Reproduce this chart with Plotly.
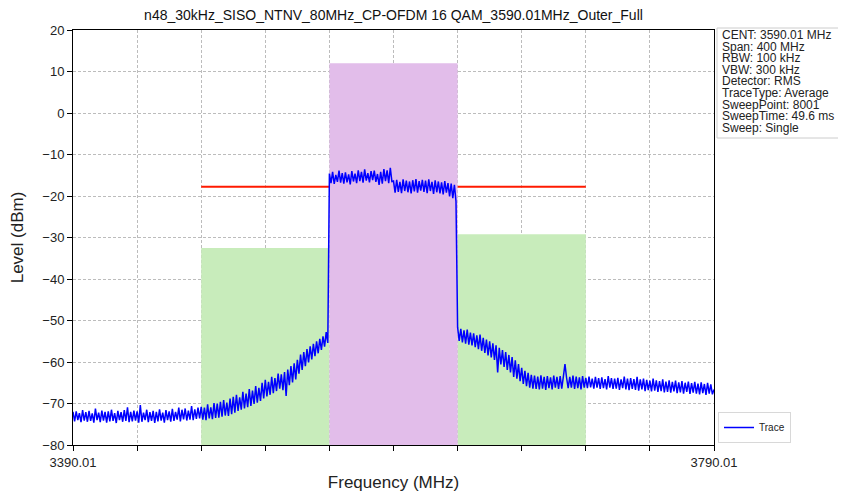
import numpy as np
import plotly.graph_objects as go

# ---------------- data ----------------
f_start = 3390.01
f_stop = 3790.01
x_tick_vals = [3390.01 + 40 * k for k in range(11)]
x_tick_text = ["3390.01"] + [""] * 9 + ["3790.01"]
y_tick_vals = [20, 10, 0, -10, -20, -30, -40, -50, -60, -70, -80]

trace_level = [
    -72.0, -74.3, -71.9, -74.0, -72.3, -74.5, -71.6, -74.1, -72.1, -74.4,
    -71.8, -74.2, -72.4, -74.6, -71.2, -74.0, -72.2, -74.5, -71.7, -74.1,
    -72.0, -74.6, -71.9, -74.3, -71.5, -74.2, -72.3, -74.7, -71.8, -74.0,
    -72.1, -74.4, -71.6, -74.2, -70.9, -74.5, -72.0, -74.3, -71.7, -74.1,
    -71.9, -74.6, -70.4, -74.4, -72.2, -74.0, -71.5, -74.5, -72.1, -74.2,
    -71.8, -74.7, -72.0, -74.3, -71.4, -74.1, -72.2, -74.6, -71.6, -74.0,
    -71.9, -74.4, -71.3, -74.2, -72.0, -73.9, -71.0, -74.3, -71.5, -73.8,
    -71.2, -74.1, -71.7, -73.9, -70.6, -74.0, -71.4, -73.7, -71.0, -73.6,
    -70.8, -73.9, -71.0, -74.0, -70.2, -73.6, -70.9, -73.8, -69.9, -73.5,
    -70.0, -73.4, -69.6, -73.2, -69.2, -72.9, -69.8, -73.0, -68.8, -72.6,
    -68.4, -72.2, -67.9, -71.8, -68.5, -71.5, -67.2, -71.2, -67.6, -70.9,
    -66.5, -70.6, -66.9, -70.1, -65.8, -69.8, -66.2, -69.4, -65.0, -68.8,
    -64.3, -68.3, -64.8, -67.9, -63.6, -67.5, -63.9, -67.0, -62.8, -66.4,
    -63.0, -66.8, -62.4, -68.2, -61.8, -65.6, -61.0, -64.9, -60.3, -64.2,
    -59.5, -62.8, -58.2, -61.9, -57.6, -61.0, -56.9, -60.1, -56.2, -59.4,
    -55.6, -58.6, -55.0, -57.9, -54.4, -57.1, -53.8, -56.3, -52.8, -55.4,
    -14.6, -16.9, -14.2, -17.1, -14.9, -16.6, -13.9, -16.8, -14.5, -17.0,
    -14.3, -16.7, -14.8, -17.2, -14.0, -16.5, -14.6, -16.9, -13.8, -16.4,
    -14.2, -16.8, -13.6, -16.3, -14.5, -16.7, -14.0, -16.2, -13.9, -16.6,
    -14.7, -17.3, -14.2, -17.0, -13.5, -16.4, -13.8, -16.9, -13.2, -16.5,
    -16.4, -19.2, -16.1, -19.0, -16.6, -19.3, -16.0, -18.8, -16.3, -19.1,
    -16.5, -19.4, -16.2, -18.9, -15.9, -19.2, -16.4, -18.7, -16.1, -19.0,
    -16.3, -19.3, -16.0, -18.8, -16.6, -19.5, -16.2, -19.1, -16.5, -19.4,
    -16.7, -19.6, -16.4, -19.2, -16.9, -20.1, -17.0, -20.5, -17.3, -21.3,
    -51.6, -54.9, -52.0, -55.3, -52.4, -55.6, -52.2, -55.8, -52.9, -56.0,
    -53.1, -56.4, -53.6, -56.9, -53.4, -57.3, -54.2, -57.8, -54.6, -58.4,
    -55.0, -58.9, -55.5, -59.5, -56.0, -62.5, -56.6, -60.6, -57.1, -61.2,
    -57.6, -61.9, -58.3, -62.5, -58.8, -63.6, -59.6, -64.0, -60.5, -64.6,
    -61.4, -65.3, -62.1, -65.8, -62.6, -66.2, -63.1, -66.4, -63.3, -66.5,
    -63.5, -66.6, -63.2, -66.4, -63.6, -66.7, -63.4, -66.3, -63.7, -66.6,
    -63.3, -66.2, -63.6, -66.5, -63.4, -66.4, -63.5, -60.5, -63.8, -66.3,
    -63.6, -66.2, -63.3, -66.5, -63.5, -66.3, -63.7, -66.6, -63.4, -66.2,
    -63.8, -66.3, -63.5, -66.1, -64.0, -66.4, -63.6, -66.2, -63.9, -66.5,
    -63.7, -66.3, -64.1, -66.6, -63.4, -66.2, -63.9, -66.5, -64.0, -66.4,
    -63.8, -66.7, -64.2, -66.3, -63.5, -66.6, -64.0, -66.8, -63.9, -66.5,
    -64.1, -66.7, -63.6, -66.9, -64.2, -66.6, -64.0, -67.0, -64.3, -66.8,
    -64.5, -67.1, -64.0, -66.9, -64.4, -67.2, -64.6, -67.0, -64.2, -67.3,
    -64.7, -67.2, -64.4, -67.4, -64.8, -67.1, -64.5, -67.5, -64.9, -67.3,
    -64.6, -67.6, -65.0, -67.2, -64.7, -67.7, -65.1, -67.4, -64.8, -67.6,
    -65.2, -67.8, -64.9, -67.5, -65.3, -67.9, -65.0, -67.6, -65.4, -67.8, -66.6,
]
trace_freq = np.linspace(f_start, f_stop, len(trace_level))

# mask regions (MHz edges and limit levels in dBm)
left_region = [3470.01, 3550.01]
left_level = -32.5
channel_region = [3550.01, 3630.01]
channel_level = 12.0
right_region = [3630.01, 3710.01]
right_level = -29.2
limit_span = [3470.01, 3710.01]
limit_level = -17.8

info_lines = [
    "CENT: 3590.01 MHz", "Span: 400 MHz", "RBW: 100 kHz", "VBW: 300 kHz",
    "Detector: RMS", "TraceType: Average", "SweepPoint: 8001",
    "SweepTime: 49.6 ms", "Sweep: Single",
]

# ---------------- figure ----------------
FONT = "Arial, Liberation Sans, sans-serif"
fig = go.Figure()


def rect(xr, top, color):
    return go.Scatter(
        x=[xr[0], xr[0], xr[1], xr[1], xr[0]],
        y=[-80, top, top, -80, -80],
        fill="toself", fillcolor=color, mode="none",
        hoverinfo="skip", showlegend=False,
    )


fig.add_trace(rect(left_region, left_level, "#c8ecbb"))
fig.add_trace(rect(right_region, right_level, "#c8ecbb"))
fig.add_trace(go.Scatter(
    x=limit_span, y=[limit_level, limit_level], mode="lines",
    line=dict(color="#ff1a00", width=2), showlegend=False,
))
fig.add_trace(rect(channel_region, channel_level, "#e2bdea"))
fig.add_trace(go.Scatter(
    x=trace_freq, y=trace_level, mode="lines", name="Trace",
    line=dict(color="#0000ff", width=1.5),
))

# page has an 8px body margin: figure coordinates = page coordinates - 8
W, H = 838, 489
L, R, T, B = 65, 706, 22, 437
PW, PH = R - L, B - T


def px(xp):
    return (xp - L) / PW


def py(yp):
    return (B - yp) / PH


fig.update_layout(
    width=W, height=H,
    margin=dict(l=L, r=W - R, t=T, b=H - B, autoexpand=False),
    paper_bgcolor="white", plot_bgcolor="white",
    font=dict(family=FONT, color="#222222", size=13),
    title=dict(
        text="n48_30kHz_SISO_NTNV_80MHz_CP-OFDM 16 QAM_3590.01MHz_Outer_Full",
        x=(L + R) / 2 / W, xanchor="center", y=1 - 7 / H, yanchor="middle",
        font=dict(size=14, family=FONT, color="#111111"),
        automargin=False,
    ),
    showlegend=True,
    legend=dict(
        x=px(710), xanchor="left", y=py(435), yanchor="bottom",
        bgcolor="white", bordercolor="#d8d8d8", borderwidth=1,
        font=dict(size=10, family=FONT, color="#222222"),
        itemwidth=30, tracegroupgap=0,
    ),
)
fig.update_xaxes(
    range=[f_start, f_stop], tickvals=x_tick_vals, ticktext=x_tick_text,
    ticks="outside", ticklen=5, tickcolor="black", automargin=False,
    showline=True, linecolor="black", linewidth=1, mirror=True,
    showgrid=True, gridcolor="#bcbcbc", griddash="3px,2px", gridwidth=1,
    zeroline=False, tickfont=dict(size=13),
    title=dict(text="Frequency (MHz)", font=dict(size=17), standoff=7),
)
fig.update_yaxes(
    range=[-80, 20], tickvals=y_tick_vals,
    ticks="outside", ticklen=5, tickcolor="black", automargin=False,
    showline=True, linecolor="black", linewidth=1, mirror=True,
    showgrid=True, gridcolor="#bcbcbc", griddash="3px,2px", gridwidth=1,
    zeroline=False, tickfont=dict(size=13),
    title=dict(text="Level (dBm)", font=dict(size=17), standoff=19),
)

# info box
fig.add_shape(
    type="rect", xref="paper", yref="paper",
    x0=px(709), x1=px(837), y0=py(130), y1=py(20),
    line=dict(color="#cccccc", width=1), fillcolor="white", layer="above",
)
for i, line in enumerate(info_lines):
    fig.add_annotation(
        text=line, xref="paper", yref="paper",
        x=px(712), xanchor="left",
        y=py(27 + i * 11.6), yanchor="middle",
        showarrow=False, font=dict(size=12, family=FONT, color="#222222"),
    )

fig.write_html("out.html")
